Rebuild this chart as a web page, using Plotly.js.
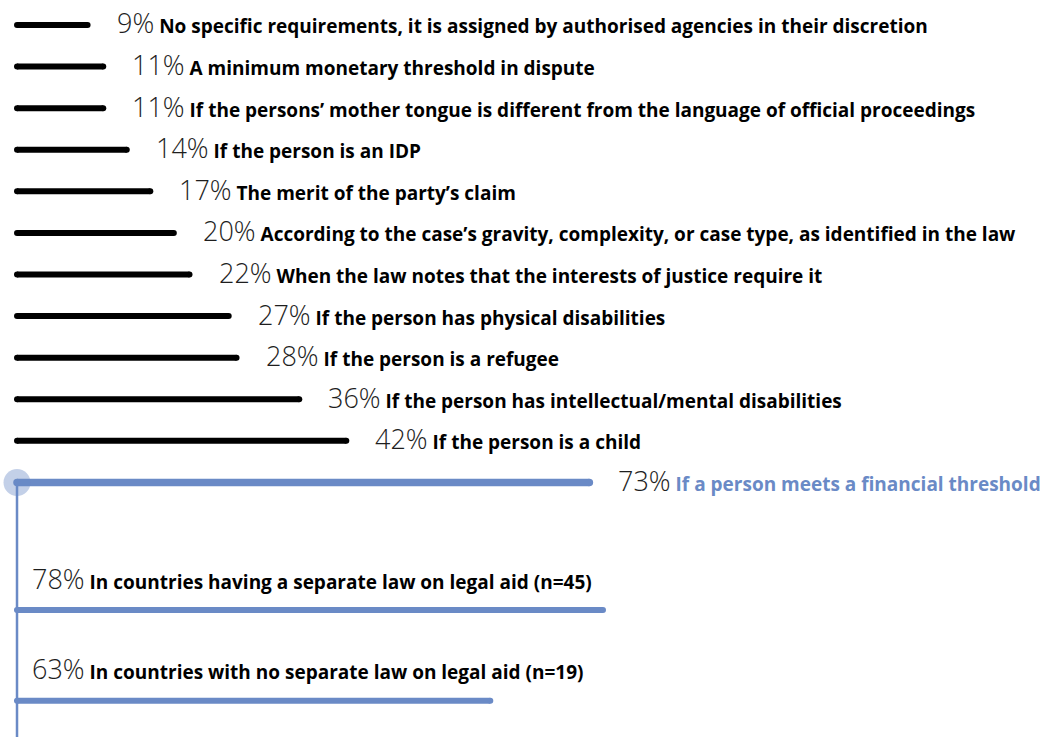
<!DOCTYPE html>
<html>
<head>
<meta charset="utf-8">
<script src="https://cdn.plot.ly/plotly-3.0.1.min.js"></script>
<style>html,body{margin:0;padding:0;background:#fff;}#chart{width:1041px;height:737px;}</style>
</head>
<body>
<div id="chart"></div>
<script>
// Criteria for legal aid eligibility (share of countries)
const criteria = [
  "No specific requirements, it is assigned by authorised agencies in their discretion",
  "A minimum monetary threshold in dispute",
  "If the persons\u2019 mother tongue is different from the language of official proceedings",
  "If the person is an IDP",
  "The merit of the party\u2019s claim",
  "According to the case\u2019s gravity, complexity, or case type, as identified in the law",
  "When the law notes that the interests of justice require it",
  "If the person has physical disabilities",
  "If the person is a refugee",
  "If the person has intellectual/mental disabilities",
  "If the person is a child",
  "If a person meets a financial threshold"
];
const criteriaValues = [9, 11, 11, 14, 17, 20, 22, 27, 28, 36, 42, 73];

// Breakdown of the financial-threshold criterion
const subgroups = [
  "In countries having a separate law on legal aid (n=45)",
  "In countries with no separate law on legal aid (n=19)"
];
const subgroupValues = [78, 63];

const BLACK = "#000000";
const BLUE = "#6a8ac6";
const PCT_STYLE = "font-family:'Open Sans';font-weight:300;font-size:27px;color:#1e1e1e";
const LBL_FONT = "Open Sans";
const LBL_SIZE = 19;

const traces = [];
const annotations = [];
const highlight = criteria.length - 1;

criteria.forEach((c, i) => {
  const v = criteriaValues[i];
  const isHi = i === highlight;
  const col = isHi ? BLUE : BLACK;
  const w = isHi ? 7.5 : 6;
  traces.push({
    type: "scatter", mode: "lines+markers",
    x: [0, v], y: [i, i], xaxis: "x", yaxis: "y",
    line: {color: col, width: w},
    marker: {color: col, size: w, line: {width: 0}},
    hoverinfo: "skip", showlegend: false
  });
  annotations.push({
    xref: "x", yref: "y", x: v, y: i, xanchor: "left", yanchor: "middle",
    xshift: 27, yshift: 2, showarrow: false,
    text: `<span style="${PCT_STYLE}${isHi ? ';color:' + BLUE : ''}">${v}%</span> <b>${c}</b>`,
    font: {family: LBL_FONT, size: LBL_SIZE, color: isHi ? BLUE : BLACK}
  });
});

// vertical connector from highlighted row downward
traces.push({
  type: "scatter", mode: "lines",
  x: [0, 0], y: [highlight, highlight + 8], xaxis: "x", yaxis: "y",
  line: {color: BLUE, width: 2.5}, hoverinfo: "skip", showlegend: false
});
traces.push({
  type: "scatter", mode: "markers",
  x: [0], y: [highlight], xaxis: "x", yaxis: "y",
  marker: {color: "rgba(106,138,198,0.4)", size: 27, line: {width: 0}},
  hoverinfo: "skip", showlegend: false
});

subgroups.forEach((s, i) => {
  const v = subgroupValues[i];
  traces.push({
    type: "scatter", mode: "lines+markers",
    x: [0, v], y: [i, i], xaxis: "x2", yaxis: "y2",
    line: {color: BLUE, width: 6},
    marker: {color: BLUE, size: 6, line: {width: 0}},
    hoverinfo: "skip", showlegend: false
  });
  annotations.push({
    xref: "x2", yref: "y2", x: 0, y: i, xanchor: "left", yanchor: "middle",
    xshift: 13, yshift: 32, showarrow: false,
    text: `<span style="${PCT_STYLE}">${v}%</span> <b>${s}</b>`,
    font: {family: LBL_FONT, size: LBL_SIZE, color: BLACK}
  });
});

const hidden = {visible: false, fixedrange: true, zeroline: false, showgrid: false};
const layout = {
  width: 1041, height: 737,
  margin: {l: 0, r: 0, t: 0, b: 0},
  paper_bgcolor: "#ffffff", plot_bgcolor: "#ffffff",
  showlegend: false,
  xaxis: Object.assign({range: [-2.17, 130.6]}, hidden),
  yaxis: Object.assign({range: [17.12, -0.6]}, hidden),
  xaxis2: Object.assign({range: [-2.26, 136.3], overlaying: "x"}, hidden),
  yaxis2: Object.assign({range: [1.40, -6.726], overlaying: "y"}, hidden),
  annotations: annotations
};

Plotly.newPlot("chart", traces, layout, {staticPlot: true, displayModeBar: false});
</script>
</body>
</html>
